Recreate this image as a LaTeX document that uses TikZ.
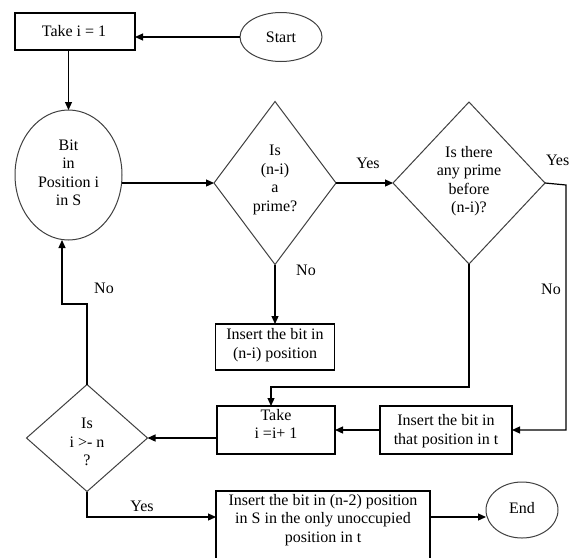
\documentclass[tikz,border=0pt]{standalone}
\usepackage{fontspec}
\setmainfont{Liberation Serif}
\usetikzlibrary{arrows.meta,shapes.geometric}
\begin{document}
\begin{tikzpicture}[x=1pt,y=-1pt,
  every node/.style={font=\fontsize{16}{18.5}\selectfont, inner sep=0pt, outer sep=0pt},
  txt/.style={align=center},
  box/.style={draw, line width=1.3pt, rectangle},
  oval/.style={draw=black!75, ellipse, line width=1pt},
  dia/.style={draw=black!75, diamond, line width=1pt},
  arr/.style={-{Triangle[length=8pt,width=7pt]}, line width=1.2pt},
  ln/.style={line width=1.2pt}]
\useasboundingbox (0,0) rectangle (572,557);
\fill[white] (0,0) rectangle (572,557);

% shapes
\node[box, minimum width=120pt, minimum height=37pt] (take1) at (75,31.5) {};
\node[txt] (take1t) at (74,31.5) {Take i = 1};
\node[oval, minimum width=82pt, minimum height=49pt] (start) at (281,37) {};
\node[txt] (startt) at (281,37) {Start};

\node[oval, minimum width=107pt, minimum height=130pt] (circ) at (68.5,175) {};
\node[txt] (circt) at (68.5,173) {Bit\\in\\Position i\\in S};

\node[dia, minimum width=122pt, minimum height=163pt] (d1) at (275,183) {};
\node[txt] (d1t) at (275,180) {Is\\(n-i)\\a\\prime?};

\node[dia, minimum width=152pt, minimum height=162pt] (d2) at (469,183) {};
\node[txt] (d2t) at (469,181) {Is there\\any prime\\before\\(n-i)?};

\node[box, minimum width=119pt, minimum height=46pt] (ins1) at (275,347) {};
\node[txt] (ins1t) at (275,345) {Insert the bit in\\(n-i) position};

\node[box, minimum width=118pt, minimum height=48pt] (take2) at (276,430) {};
\node[txt] (take2t) at (276,424) {Take\\i =i+ 1};

\node[box, minimum width=132pt, minimum height=48pt] (ins2) at (446,430) {};
\node[txt] (ins2t) at (446,431) {Insert the bit in\\that position in t};

\node[dia, minimum width=121pt, minimum height=107pt] (d3) at (87,438) {};
\node[txt] (d3t) at (87,442) {Is\\i >- n\\?};

\node[box, minimum width=214pt, minimum height=71pt, anchor=north] (fin) at (323,491) {};
\node[txt] (fint) at (323,520) {Insert the bit in (n-2) position\\in S in the only unoccupied\\position in t};

\node[oval, minimum width=72pt, minimum height=56pt] (end) at (522,510) {};
\node[txt] (endt) at (522,508) {End};

% helper coordinates
\coordinate (j1) at (271,387);
\coordinate (j2) at (566,185);
\coordinate (j3) at (62,304);
\coordinate (yl) at (0,517);

% connectors
\draw[arr] (start.west) -- (start.west -| take1.east);
\draw[arr] (take1.south -| circ.north) -- (circ.north);
\draw[arr] (circ.east |- d1.west) -- (d1.west);
\draw[arr] (d1.east) -- (d2.west);
\draw[arr] (d1.south) -- (ins1.north);
\draw[arr] (d2.south) |- (j1) -- (j1 |- take2.north);
\draw[arr] (d2.east) -- (j2) -- (j2 |- ins2.east) -- (ins2.east);
\draw[arr] (ins2.west) -- (take2.east);
\draw[arr] (take2.west |- d3.east) -- (d3.east);
\draw[arr] (d3.north) |- (j3) -- (j3 |- circ.south);
\draw[arr] (d3.south) |- (fin.west |- yl);
\draw[arr] (fin.east |- yl) -- (end.west |- yl);

% labels
\node (l1) at (368,163) {Yes};
\node (l2) at (306,270) {No};
\node[anchor=west] (l3) at (546,160) {Yes};
\node (l4) at (551,289) {No};
\node (l5) at (104,288) {No};
\node (l6) at (142,506) {Yes};
\end{tikzpicture}
\end{document}
